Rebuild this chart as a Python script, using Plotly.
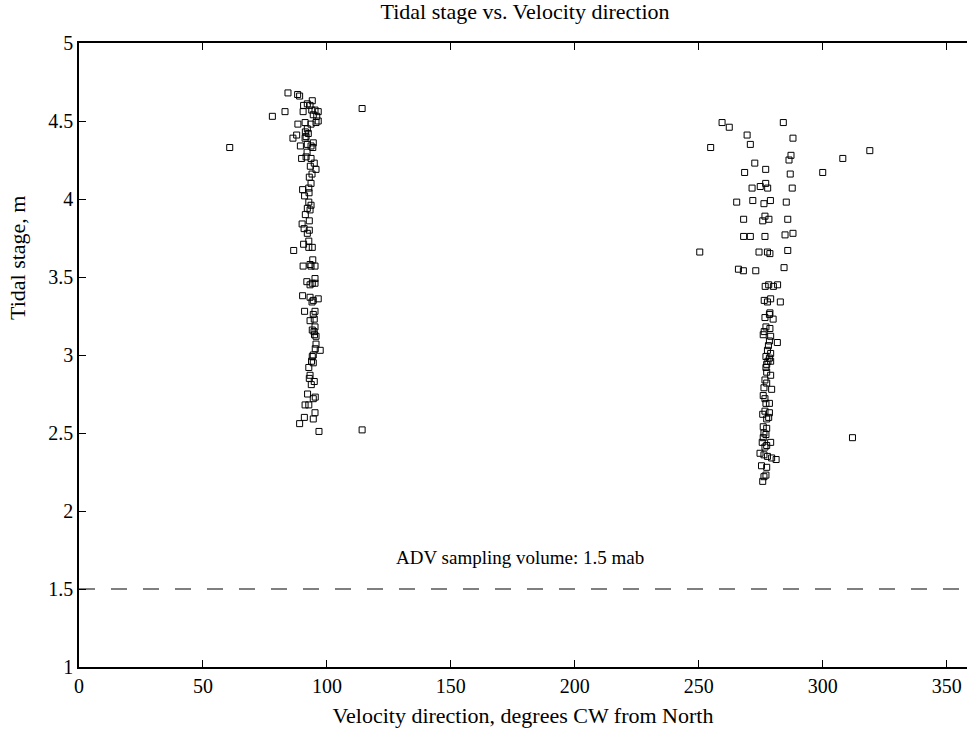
import plotly.graph_objects as go

# Velocity direction (degrees CW from North) and tidal stage (m), flood cluster near 90 deg
flood_dir = [84.3, 88.2, 89.0, 94.1, 90.6, 92.1, 93.2, 78.0, 83.1, 90.4, 93.9, 95.2, 96.5, 94.5,
             95.9, 96.5, 95.6, 93.6, 91.2, 88.3, 92.1, 91.3, 92.5, 91.6, 87.8, 86.3, 91.2, 60.8,
             89.3, 92.1, 94.5, 93.6, 94.3, 92.0, 89.8, 91.6, 93.6, 94.9, 93.3, 95.6, 94.0, 92.9,
             93.6, 90.2, 92.7, 92.8, 91.0, 92.7, 93.6, 92.1, 93.2, 91.3, 92.9, 90.0, 90.8, 92.9,
             92.1, 92.7, 90.6, 92.7, 94.1, 86.6, 94.3, 93.2, 90.4, 95.2, 93.6, 95.2, 91.9, 94.1,
             93.2, 95.2, 90.2, 93.2, 94.5, 96.5, 94.0, 91.0, 95.2, 94.5, 93.2, 94.9, 95.2, 94.1,
             95.0, 95.6, 94.8, 95.6, 97.3, 95.3, 94.5, 94.1, 93.8, 94.5, 92.7, 93.2, 92.9, 94.9,
             93.7, 92.2, 95.3, 94.5, 91.2, 92.7, 95.2, 90.9, 94.5, 89.0, 96.8, 114.2, 114.2]
flood_stage = [4.68, 4.67, 4.66, 4.63, 4.60, 4.61, 4.60, 4.53, 4.56, 4.56, 4.57, 4.57, 4.56, 4.54,
               4.53, 4.50, 4.49, 4.48, 4.49, 4.48, 4.45, 4.43, 4.42, 4.40, 4.41, 4.39, 4.39, 4.33,
               4.34, 4.35, 4.36, 4.34, 4.33, 4.30, 4.26, 4.27, 4.26, 4.23, 4.21, 4.19, 4.16, 4.14,
               4.10, 4.06, 4.07, 4.04, 4.02, 3.98, 3.96, 3.94, 3.93, 3.90, 3.86, 3.84, 3.81, 3.80,
               3.78, 3.73, 3.71, 3.69, 3.69, 3.67, 3.61, 3.58, 3.57, 3.57, 3.57, 3.49, 3.47, 3.46,
               3.45, 3.46, 3.38, 3.37, 3.35, 3.36, 3.34, 3.28, 3.28, 3.26, 3.22, 3.23, 3.18, 3.16,
               3.13, 3.12, 3.15, 3.07, 3.03, 3.04, 3.00, 2.99, 2.96, 2.95, 2.92, 2.87, 2.85, 2.83,
               2.81, 2.75, 2.73, 2.72, 2.68, 2.68, 2.63, 2.60, 2.59, 2.56, 2.51, 2.52, 4.58]

# Ebb cluster near 277 deg
ebb_dir = [259.4, 262.3, 284.1, 269.5, 270.8, 288.0, 254.8, 319.0, 308.1, 287.2, 286.4, 272.6,
           268.5, 277.0, 286.9, 300.0, 277.0, 274.8, 271.5, 277.8, 287.7, 265.3, 271.8, 276.3,
           278.9, 285.3, 268.1, 275.8, 276.7, 278.3, 285.9, 268.1, 270.8, 276.7, 284.8, 288.0,
           250.4, 274.3, 277.7, 278.7, 285.9, 266.0, 268.0, 273.0, 284.4, 276.8, 278.2, 280.1,
           281.8, 276.4, 277.7, 279.0, 282.9, 278.7, 276.7, 278.5, 280.0, 277.1, 278.7, 276.4,
           276.0, 279.0, 278.5, 281.7, 278.1, 277.7, 279.0, 277.1, 278.5, 277.4, 277.1, 277.9,
           279.0, 277.4, 279.0, 276.7, 277.4, 279.4, 276.3, 276.0, 276.7, 277.1, 278.5, 276.7,
           278.5, 275.8, 277.4, 278.2, 276.0, 277.4, 276.3, 277.1, 276.0, 275.6, 279.0, 277.4,
           276.7, 274.7, 276.3, 277.7, 279.4, 281.2, 275.3, 277.4, 277.1, 276.3, 275.8, 312.0]
ebb_stage = [4.49, 4.46, 4.49, 4.41, 4.35, 4.39, 4.33, 4.31, 4.26, 4.28, 4.25, 4.23,
             4.17, 4.19, 4.16, 4.17, 4.10, 4.08, 4.07, 4.07, 4.07, 3.98, 3.99, 3.97,
             3.99, 3.98, 3.87, 3.86, 3.89, 3.87, 3.87, 3.76, 3.76, 3.76, 3.77, 3.78,
             3.66, 3.66, 3.66, 3.65, 3.67, 3.55, 3.54, 3.54, 3.56, 3.44, 3.45, 3.44,
             3.45, 3.35, 3.34, 3.36, 3.34, 3.27, 3.24, 3.26, 3.23, 3.18, 3.17, 3.15,
             3.13, 3.12, 3.09, 3.08, 3.06, 3.03, 3.01, 2.99, 2.98, 2.94, 2.92, 2.96,
             2.96, 2.89, 2.87, 2.84, 2.82, 2.78, 2.79, 2.74, 2.72, 2.69, 2.69, 2.64,
             2.63, 2.62, 2.59, 2.60, 2.54, 2.53, 2.50, 2.49, 2.47, 2.44, 2.44, 2.42,
             2.41, 2.37, 2.36, 2.35, 2.34, 2.33, 2.29, 2.28, 2.23, 2.22, 2.19, 2.47]

# ADV sampling height reference line
adv_height = 1.5
adv_x = [0, 360]

x_ticks = [0, 50, 100, 150, 200, 250, 300, 350]
y_ticks = [1, 1.5, 2, 2.5, 3, 3.5, 4, 4.5, 5]
y_tick_text = ["1", "1.5", "2", "2.5", "3", "3.5", "4", "4.5", "5"]

FONT = "Liberation Serif"
TICK_SIZE = 20
LABEL_SIZE = 22

fig = go.Figure()

fig.add_trace(go.Scatter(
    x=adv_x, y=[adv_height, adv_height], mode="lines",
    line=dict(color="black", width=1.2, dash="16px,16px"),
    hoverinfo="skip", showlegend=False,
))

marker_style = dict(symbol="square-open", size=6, color="black", line=dict(width=1, color="black"))
fig.add_trace(go.Scatter(x=flood_dir, y=flood_stage, mode="markers",
                         marker=marker_style, showlegend=False))
fig.add_trace(go.Scatter(x=ebb_dir, y=ebb_stage, mode="markers",
                         marker=marker_style, showlegend=False))

fig.add_annotation(x=178, y=1.70, text="ADV sampling volume: 1.5 mab", showarrow=False,
                   font=dict(family=FONT, size=19, color="black"))

# vertical axis label, set beside the upper part of the axis
fig.add_annotation(xref="paper", x=-0.069, yref="y", y=3.62, text="Tidal stage, m",
                   textangle=-90, showarrow=False, xanchor="center", yanchor="middle",
                   font=dict(family=FONT, size=LABEL_SIZE, color="black"))

tick_common = dict(ticks="inside", ticklen=7, tickwidth=1, tickcolor="black",
                   showgrid=False, zeroline=False,
                   tickfont=dict(family=FONT, size=TICK_SIZE, color="black"))

fig.update_layout(
    xaxis=dict(range=[0, 358.2], tickvals=x_ticks,
               showline=True, linecolor="black", linewidth=1.5, mirror="ticks",
               title=dict(text="Velocity direction, degrees CW from North",
                          font=dict(family=FONT, size=LABEL_SIZE, color="black"), standoff=12),
               **tick_common),
    yaxis=dict(range=[1, 5], tickvals=y_ticks, ticktext=y_tick_text,
               showline=True, linecolor="black", linewidth=1.5, mirror=False,
               **tick_common),
    # right-hand tick marks only, no frame line on that side
    yaxis2=dict(range=[1, 5], tickvals=y_ticks, overlaying="y", side="right", anchor="x",
                matches="y", showline=False, showticklabels=False, **tick_common),
    width=967, height=729,
    margin=dict(l=79, r=0, t=43, b=62),
    paper_bgcolor="white", plot_bgcolor="white",
    title=dict(text="Tidal stage vs. Velocity direction", x=0.543, xanchor="center",
               y=0.984, yanchor="middle", yref="container",
               font=dict(family=FONT, size=LABEL_SIZE, color="black")),
)

fig.write_html("out.html")
